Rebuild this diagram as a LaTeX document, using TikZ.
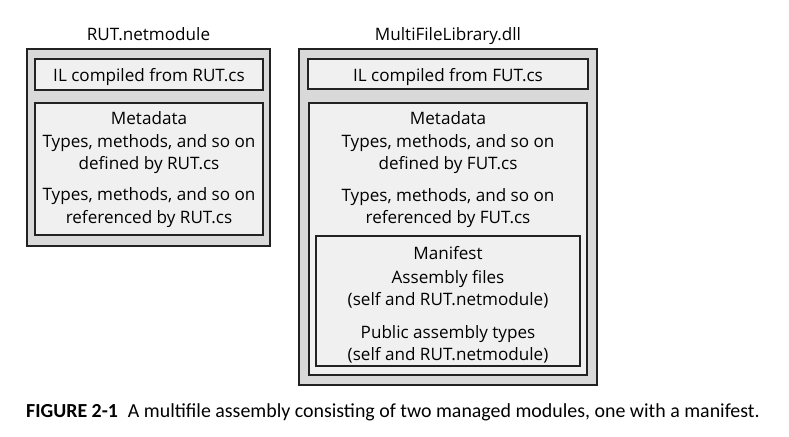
\documentclass[tikz,border=0pt]{standalone}
\usepackage{fontspec}
\setmainfont{Open Sans}
\newfontfamily\capfont{Carlito}
\definecolor{outerfill}{HTML}{D9D9D9}
\definecolor{innerfill}{HTML}{F0F0F0}
\definecolor{edge}{HTML}{222222}
\begin{document}
\begin{tikzpicture}[x=1pt,y=-1pt,
  boxstyle/.style={draw=edge, line width=2.2pt, rectangle, inner sep=0pt},
  outerbox/.style={boxstyle, fill=outerfill},
  innerbox/.style={boxstyle, fill=innerfill},
  lbl/.style={font=\fontsize{17.1}{20}\selectfont, text=black, inner sep=0pt, anchor=mid}]
\path[use as bounding box, fill=white] (0,0) rectangle (789,436);
% left module
\node[outerbox, minimum width=243pt, minimum height=197pt] (lout) at (148.5,147.5) {};
\node[innerbox, minimum width=228pt, minimum height=31pt] (lil) at (149,74.5) {};
\node[innerbox, minimum width=228pt, minimum height=132pt] (lmeta) at (149,169) {};
\node[lbl] (ltitle) at (148.5,38) {RUT.netmodule};
\node[lbl] (lilt) at (149,79) {IL compiled from RUT.cs};
\node[lbl] (lm1) at (149,122) {Metadata};
\node[lbl] (lm2) at (149,145) {Types, methods, and so on};
\node[lbl] (lm3) at (149,167) {defined by RUT.cs};
\node[lbl] (lm4) at (149,198) {Types, methods, and so on};
\node[lbl] (lm5) at (149,221) {referenced by RUT.cs};
% right module
\node[outerbox, minimum width=298pt, minimum height=336pt] (rout) at (448,217) {};
\node[innerbox, minimum width=280pt, minimum height=30pt] (ril) at (448,74) {};
\node[innerbox, minimum width=278pt, minimum height=272pt] (rmeta) at (448,239) {};
\node[innerbox, minimum width=264pt, minimum height=130pt] (rman) at (448,301) {};
\node[lbl] (rtitle) at (448,38) {MultiFileLibrary.dll};
\node[lbl] (rilt) at (448,79) {IL compiled from FUT.cs};
\node[lbl] (rm1) at (448,122) {Metadata};
\node[lbl] (rm2) at (448,145) {Types, methods, and so on};
\node[lbl] (rm3) at (448,167) {defined by FUT.cs};
\node[lbl] (rm4) at (448,199) {Types, methods, and so on};
\node[lbl] (rm5) at (448,221) {referenced by FUT.cs};
\node[lbl] (rf1) at (448,257) {Manifest};
\node[lbl] (rf2) at (448,281) {Assembly files};
\node[lbl] (rf3) at (448,303) {(self and RUT.netmodule)};
\node[lbl] (rf4) at (448,336) {Public assembly types};
\node[lbl] (rf5) at (448,358) {(self and RUT.netmodule)};
% caption
\node[inner sep=0pt, anchor=mid west, font=\capfont\fontsize{19.9}{22}\selectfont] (cap) at (26,415)
  {\textbf{FIGURE 2-1}\hspace{0.5em}A multifile assembly consisting of two managed modules, one with a manifest.};
\end{tikzpicture}
\end{document}
